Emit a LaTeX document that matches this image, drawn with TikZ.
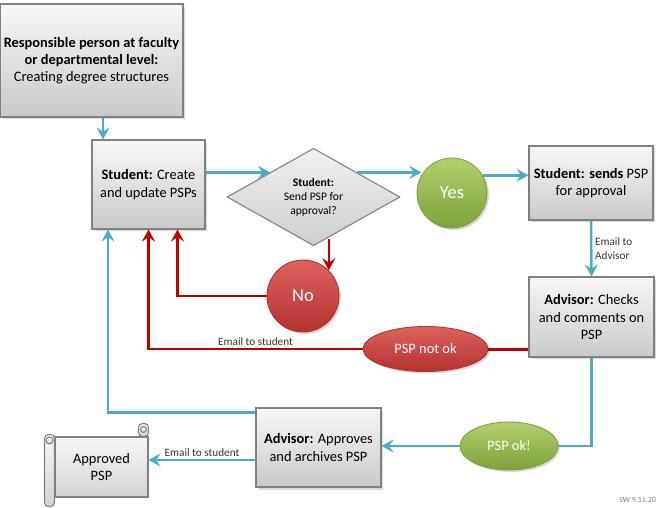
\documentclass[tikz,border=0pt]{standalone}
\usepackage{fontspec}
\setmainfont{Carlito}
\usetikzlibrary{arrows.meta,positioning,calc,shapes.geometric,shadows}
\definecolor{lnblue}{RGB}{75,172,198}
\definecolor{lnred}{RGB}{192,0,0}
\definecolor{bxgray}{RGB}{128,128,128}
\definecolor{grtop}{RGB}{178,208,108}
\definecolor{grbot}{RGB}{125,162,60}
\definecolor{rdtop}{RGB}{222,98,94}
\definecolor{rdbot}{RGB}{180,50,48}

\begin{document}
\begin{tikzpicture}[x=0.02cm,y=-0.02cm,
  every node/.style={font=\fontsize{8.2}{9.8}\selectfont},
  bx/.style={draw=bxgray,line width=0.6pt,align=center,inner sep=2pt,top color=gray!6,bottom color=gray!42,drop shadow={opacity=0.3,shadow xshift=0.05cm,shadow yshift=-0.05cm}},
  dec/.style={diamond,draw=bxgray,line width=0.6pt,align=center,inner sep=0pt,top color=gray!12,bottom color=gray!38,minimum width=3.46cm,minimum height=1.6cm,font=\fontsize{6.6}{8}\selectfont},
  gr/.style={ellipse,draw=grbot,line width=0.5pt,top color=grtop,bottom color=grbot,text=white,inner sep=0pt,drop shadow={opacity=0.3,shadow xshift=0.04cm,shadow yshift=-0.04cm}},
  rd/.style={ellipse,draw=rdbot,line width=0.5pt,top color=rdtop,bottom color=rdbot,text=white,inner sep=0pt,drop shadow={opacity=0.3,shadow xshift=0.04cm,shadow yshift=-0.04cm}},
  scr/.style={draw=bxgray,line width=0.6pt,top color=gray!6,bottom color=gray!35},
  bl/.style={draw=lnblue,line width=1.4pt},
  rl/.style={draw=lnred,line width=1.4pt},
  ar/.style={-{Stealth[length=2.4mm,width=2.6mm,inset=0.9mm]}},
  lbl/.style={font=\fontsize{6.4}{7.6}\selectfont,text=black!80,inner sep=1.5pt}]
\useasboundingbox (0,0) rectangle (662,507);

\node[bx,minimum width=3.66cm,minimum height=2.26cm] (resp) at (91.5,60.5) {\textbf{Responsible person at faculty}\\\textbf{or departmental level:}\\Creating degree structures};
\node[bx,minimum width=2.26cm,minimum height=1.78cm] (stud) at (148.5,184.5) {\textbf{Student:} Create\\and update PSPs};
\node[dec] (dia) at (313.5,197) {\textbf{Student:}\\Send PSP for\\approval?};
\node[gr,circle,minimum size=1.4cm,font=\fontsize{10.5}{12}\selectfont] (yes) at (452,193) {Yes};
\node[bx,minimum width=2.48cm,minimum height=1.48cm] (sends) at (591,183) {\textbf{Student: sends} PSP\\for approval};
\node[bx,minimum width=2.5cm,minimum height=1.6cm] (chk) at (591.5,317) {\textbf{Advisor:} Checks\\and comments on\\PSP};
\node[rd,circle,minimum size=1.44cm,font=\fontsize{10.5}{12}\selectfont] (no) at (303,296) {No};
\node[rd,minimum width=2.5cm,minimum height=0.9cm] (notok) at (425.5,349) {PSP not ok};
\node[gr,minimum width=1.96cm,minimum height=0.96cm] (ok) at (509,446) {PSP ok!};
\node[bx,minimum width=2.5cm,minimum height=1.58cm] (app) at (318.5,447.5) {\textbf{Advisor:} Approves\\and archives PSP};
\node[scr,align=center,minimum width=1.86cm,minimum height=1.2cm] (appr) at (101.5,467) {Approved\\PSP};
\draw[scr,rounded corners=0.08cm] ($(appr.north west)+(-10,-2)$) rectangle ($(appr.south west)+(0,9)$);
\draw[scr] ($(appr.north west)+(-5,4)$) circle (0.07cm);
\draw[scr,rounded corners=0.08cm] ($(appr.north east)+(-10,0)$) rectangle ($(appr.north east)+(0,-13)$);
\draw[scr] ($(appr.north east)+(-5,-7)$) circle (0.06cm);
\node[font=\fontsize{4.5}{5}\selectfont,text=gray,anchor=east] (foot) at (662,500) {SW 9.11.20};

% blue path
\draw[bl,ar] ([xshift=0.23cm]resp.south) -- ([xshift=0.23cm]resp.south |- stud.north);
\draw[bl,ar] (stud.east |- dia.north west) -- (dia.north west);
\draw[bl,ar] (dia.north east) -- (dia.north east -| yes.150);
\draw[bl,ar] (yes.30) -- (yes.30 -| sends.west);
\draw[bl,ar] (sends.south) -- (chk.north) node[lbl,midway,right,align=left] {Email to\\Advisor};
\draw[bl] (chk.south) |- (ok.east);
\draw[bl,ar] (ok.west) -- (ok.west -| app.east);
\draw[bl,ar] ([yshift=-0.1cm]app.north west) -| ([xshift=-0.81cm]stud.south);
\draw[bl,ar] ([yshift=-0.25cm]app.west) -- ([yshift=-0.25cm]app.west -| appr.east) node[lbl,midway,above] {Email to student};
% red path
\draw[rl,ar] ([yshift=0.14cm]no.45 |- dia.south) -- (no.45);
\draw[rl,ar] (no.west) -| ([xshift=0.58cm]stud.south);
\draw[rl] ([yshift=0.16cm]chk.south west) -- ([yshift=0.16cm]chk.south west -| notok.east);
\draw[rl,ar] (notok.west) -| (stud.south) node[lbl,above,pos=0.25] {Email to student};
\end{tikzpicture}
\end{document}
